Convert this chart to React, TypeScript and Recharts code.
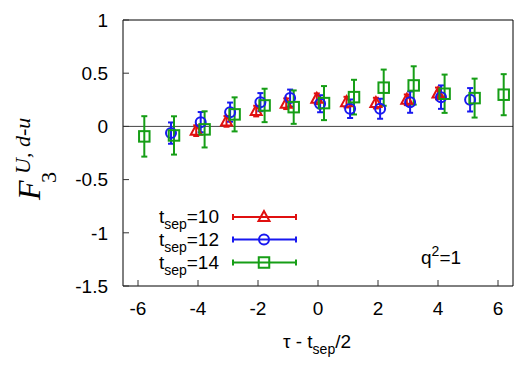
import {
  ScatterChart, Scatter, XAxis, YAxis, ErrorBar, ReferenceLine,
} from "recharts";

// tau - tsep/2 positions (each set shifted a little so the bars don't overlap)
const xTsep10 = [-4.06, -3.05, -2.06, -1.06, -0.04, 0.95, 1.93, 2.96, 4.0];
const yTsep10 = [-0.04, 0.047, 0.144, 0.213, 0.26, 0.228, 0.219, 0.25, 0.31];
const eTsep10 = [0.05, 0.05, 0.05, 0.05, 0.05, 0.05, 0.05, 0.05, 0.055];

const xTsep12 = [-4.9, -3.91, -2.93, -1.92, -0.93, 0.07, 1.07, 2.07, 3.07, 4.1, 5.07];
const yTsep12 = [-0.063, 0.04, 0.134, 0.228, 0.266, 0.213, 0.166, 0.166, 0.228, 0.275, 0.25];
const eTsep12 = [0.1, 0.095, 0.09, 0.085, 0.08, 0.08, 0.087, 0.094, 0.1, 0.11, 0.11];

const xTsep14 = [-5.79, -4.8, -3.78, -2.78, -1.78, -0.81, 0.2, 1.2, 2.19, 3.19, 4.22, 5.22, 6.19];
const yTsep14 = [-0.094, -0.085, -0.028, 0.113, 0.197, 0.181, 0.219, 0.275, 0.364, 0.385, 0.307, 0.266, 0.298];
const eTsep14 = [0.19, 0.18, 0.17, 0.16, 0.157, 0.157, 0.16, 0.163, 0.17, 0.18, 0.18, 0.183, 0.193];

const xTicks = [-6, -4, -2, 0, 2, 4, 6];
const yTicks = [-1.5, -1, -0.5, 0, 0.5, 1];

const RED = "#e01010";
const BLUE = "#1818f0";
const GREEN = "#169e16";
const SANS = "'Liberation Sans', Arial, Helvetica, sans-serif";
const SERIF = "'Liberation Serif', 'Times New Roman', serif";
const SW = 2;

const toPoints = (xs: number[], ys: number[], es: number[]) =>
  xs.map((x, i) => ({ x, y: ys[i], err: es[i] }));

const tsep10 = toPoints(xTsep10, yTsep10, eTsep10);
const tsep12 = toPoints(xTsep12, yTsep12, eTsep12);
const tsep14 = toPoints(xTsep14, yTsep14, eTsep14);

const Triangle = ({ cx, cy, color }: any) => (
  <polygon
    points={`${cx},${cy - 6} ${cx - 5.5},${cy + 4} ${cx + 5.5},${cy + 4}`}
    fill="none" stroke={color} strokeWidth={SW}
  />
);
const Circle = ({ cx, cy, color }: any) => (
  <circle cx={cx} cy={cy} r={5} fill="none" stroke={color} strokeWidth={SW} />
);
const Square = ({ cx, cy, color }: any) => (
  <rect x={cx - 5.25} y={cy - 5.25} width={10.5} height={10.5} fill="none" stroke={color} strokeWidth={SW} />
);

// one legend row: label, horizontal bar with caps, marker in the middle
const LegendRow = ({ y, label, color, Marker }: any) => (
  <g>
    <text x={219} y={y + 6} textAnchor="end" fontFamily={SANS} fontSize={19} fill="#000">
      t<tspan fontSize={14} dy={6}>sep</tspan><tspan dy={-6}>={label}</tspan>
    </text>
    <line x1={233} y1={y} x2={296} y2={y} stroke={color} strokeWidth={SW} />
    <line x1={233} y1={y - 3} x2={233} y2={y + 3} stroke={color} strokeWidth={SW} />
    <line x1={296} y1={y - 3} x2={296} y2={y + 3} stroke={color} strokeWidth={SW} />
    <Marker cx={264} cy={y} color={color} />
  </g>
);

function App() {
  return (
    <div style={{ position: "absolute", left: 0, top: 0 }}>
      <ScatterChart width={525} height={367} margin={{ top: 19, right: 11, bottom: 21, left: 0 }}>
        <XAxis
          dataKey="x" type="number" domain={[-6.5, 6.5]} ticks={xTicks} allowDataOverflow
          height={60} tickSize={-6} tickMargin={22}
          axisLine={{ stroke: "#000" }} tickLine={{ stroke: "#333" }}
          tick={{ fontSize: 19, fill: "#000", fontFamily: SANS }}
        />
        <XAxis
          xAxisId="top" orientation="top" type="number" domain={[-6.5, 6.5]} ticks={xTicks}
          allowDataOverflow height={1} tickSize={-6} tick={false}
          axisLine={{ stroke: "#000" }} tickLine={{ stroke: "#333" }}
        />
        <YAxis
          dataKey="y" type="number" domain={[-1.5, 1]} ticks={yTicks} allowDataOverflow
          width={123} tickSize={-6} tickMargin={21}
          axisLine={{ stroke: "#000" }} tickLine={{ stroke: "#333" }}
          tick={{ fontSize: 19, fill: "#000", fontFamily: SANS }}
        />
        <YAxis
          yAxisId="right" orientation="right" type="number" domain={[-1.5, 1]} ticks={yTicks}
          allowDataOverflow width={1} tickSize={-6} tick={false}
          axisLine={{ stroke: "#000" }} tickLine={{ stroke: "#333" }}
        />
        <ReferenceLine y={0} stroke="#444" strokeWidth={1} />

        <Scatter data={tsep10} isAnimationActive={false} shape={(p: any) => <Triangle cx={p.cx} cy={p.cy} color={RED} />}>
          <ErrorBar dataKey="err" direction="y" width={3} stroke={RED} strokeWidth={SW} isAnimationActive={false} />
        </Scatter>
        <Scatter data={tsep12} isAnimationActive={false} shape={(p: any) => <Circle cx={p.cx} cy={p.cy} color={BLUE} />}>
          <ErrorBar dataKey="err" direction="y" width={3} stroke={BLUE} strokeWidth={SW} isAnimationActive={false} />
        </Scatter>
        <Scatter data={tsep14} isAnimationActive={false} shape={(p: any) => <Square cx={p.cx} cy={p.cy} color={GREEN} />}>
          <ErrorBar dataKey="err" direction="y" width={3} stroke={GREEN} strokeWidth={SW} isAnimationActive={false} />
        </Scatter>

        <LegendRow y={217} label="10" color={RED} Marker={Triangle} />
        <LegendRow y={239.5} label="12" color={BLUE} Marker={Circle} />
        <LegendRow y={262.5} label="14" color={GREEN} Marker={Square} />

        <text x={421} y={264} fontFamily={SANS} fontSize={19} fill="#000">
          q<tspan fontSize={14} dy={-8}>2</tspan><tspan dy={8}>=1</tspan>
        </text>

        <text x={317} y={348} textAnchor="middle" fontFamily={SANS} fontSize={19} fill="#000">
          τ - t<tspan fontSize={14} dy={6}>sep</tspan><tspan dy={-6}>/2</tspan>
        </text>

        {/* y-axis title F_3^{U, d-u}, rotated */}
        <g transform="translate(40, 200) rotate(-90)" fontFamily={SERIF} fontStyle="italic" fill="#000">
          <text x={0} y={0} fontSize={32}>F</text>
          <text x={17} y={16} fontSize={22} fontStyle="normal">3</text>
          <text x={26} y={-10} fontSize={22}>U, d-u</text>
        </g>
      </ScatterChart>
    </div>
  );
}

export default App;
